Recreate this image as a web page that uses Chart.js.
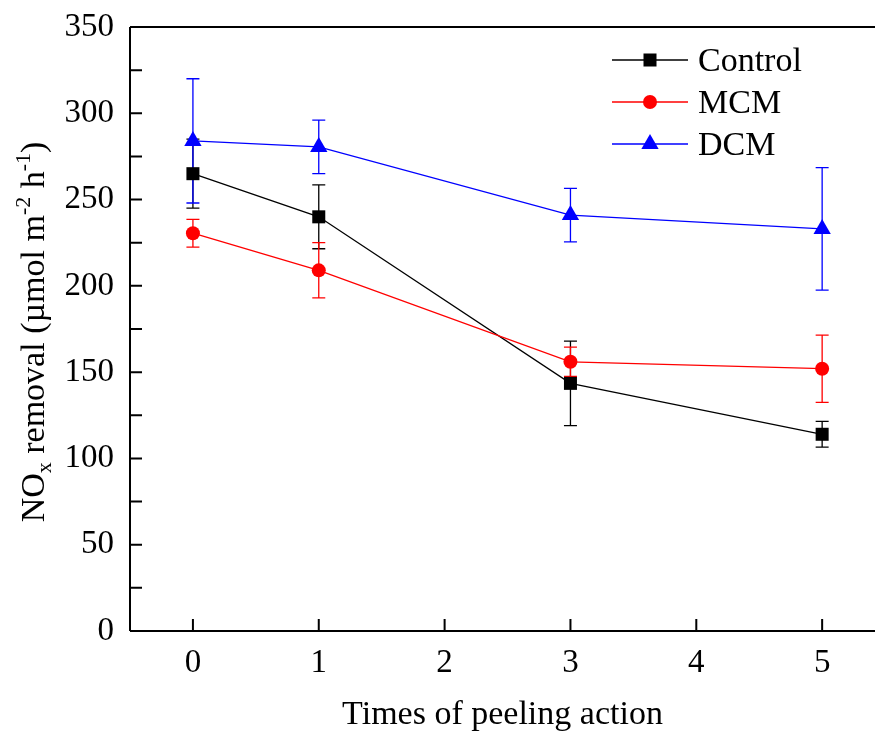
<!DOCTYPE html>
<html>
<head>
<meta charset="utf-8">
<script src="https://cdn.jsdelivr.net/npm/chart.js@4/dist/chart.umd.min.js"></script>
<style>
html,body{margin:0;padding:0;overflow:hidden;background:#fff;}
#c{display:block;width:875px;height:731px;}
</style>
</head>
<body>
<canvas id="c" width="875" height="731"></canvas>
<script>
// ---- data ----
const categories = [0, 1, 3, 5];
const seriesNames = ['Control', 'MCM', 'DCM'];
const controlValues = [265, 240, 143.5, 114];
const controlErrors = [20, 18.5, 24.5, 7.5];
const mcmValues = [230.5, 209, 156, 152];
const mcmErrors = [8, 16, 8.5, 19.5];
const dcmValues = [284, 280.5, 241, 233];
const dcmErrors = [36, 15.5, 15.5, 35.5];
const xTickValues = [0, 1, 2, 3, 4, 5];
const yTickValues = [0, 50, 100, 150, 200, 250, 300, 350];
const yMinorTickValues = [0, 25, 50, 75, 100, 125, 150, 175, 200, 225, 250, 275, 300, 325, 350];
const xTitle = 'Times of peeling action';

const FONT = '"Liberation Serif", "Times New Roman", serif';

function mk(vals) { return categories.map((c, i) => ({x: c, y: vals[i]})); }

const datasets = [
  {label: seriesNames[0], data: mk(controlValues), errors: controlErrors, borderColor: '#000000', backgroundColor: '#000000', pointStyle: 'rect', pointRadius: 9.2, order: 3},
  {label: seriesNames[1], data: mk(mcmValues), errors: mcmErrors, borderColor: '#ff0000', backgroundColor: '#ff0000', pointStyle: 'circle', pointRadius: 7, order: 2},
  {label: seriesNames[2], data: mk(dcmValues), errors: dcmErrors, borderColor: '#0000ff', backgroundColor: '#0000ff', pointStyle: 'triangle', pointRadius: 10, order: 1}
].map(d => Object.assign(d, {borderWidth: 1.3, pointBorderWidth: 0, pointHoverRadius: d.pointRadius, fill: false, tension: 0}));

const errorBars = {
  id: 'errorBars',
  beforeDatasetsDraw(chart) {
    const ctx = chart.ctx, xs = chart.scales.x, ys = chart.scales.y;
    ctx.save();
    chart.data.datasets.forEach((ds) => {
      ctx.strokeStyle = ds.borderColor;
      ctx.lineWidth = 1.3;
      ds.data.forEach((p, i) => {
        const e = ds.errors[i];
        const px = xs.getPixelForValue(p.x);
        const t = ys.getPixelForValue(p.y + e), b = ys.getPixelForValue(p.y - e);
        ctx.beginPath();
        ctx.moveTo(px, t); ctx.lineTo(px, b);
        ctx.moveTo(px - 6.5, t); ctx.lineTo(px + 6.5, t);
        ctx.moveTo(px - 6.5, b); ctx.lineTo(px + 6.5, b);
        ctx.stroke();
      });
    });
    ctx.restore();
  }
};

const frame = {
  id: 'frame',
  afterDraw(chart) {
    const ctx = chart.ctx, a = chart.chartArea, xs = chart.scales.x, ys = chart.scales.y;
    ctx.save();
    ctx.strokeStyle = '#000';
    ctx.lineWidth = 2;
    ctx.beginPath();
    ctx.moveTo(a.left, a.top); ctx.lineTo(a.right, a.top);
    ctx.moveTo(a.left, a.top); ctx.lineTo(a.left, a.bottom);
    ctx.moveTo(a.left, a.bottom); ctx.lineTo(a.right, a.bottom);
    ctx.stroke();
    ctx.beginPath();
    xTickValues.forEach(v => { const p = xs.getPixelForValue(v); ctx.moveTo(p, a.bottom); ctx.lineTo(p, a.bottom - 12); });
    yMinorTickValues.forEach(v => { const p = ys.getPixelForValue(v); ctx.moveTo(a.left, p); ctx.lineTo(a.left + 12, p); });
    ctx.stroke();

    // legend
    ctx.textBaseline = 'middle';
    ctx.textAlign = 'left';
    chart.data.datasets.forEach((ds, i) => {
      const y = 60 + i * 42;
      ctx.strokeStyle = ds.borderColor;
      ctx.lineWidth = 1.3;
      ctx.beginPath(); ctx.moveTo(612, y); ctx.lineTo(688, y); ctx.stroke();
      ctx.fillStyle = ds.backgroundColor;
      Chart.helpers.drawPoint(ctx, {pointStyle: ds.pointStyle, radius: ds.pointRadius, borderWidth: 0}, 650, y);
      ctx.fillStyle = '#000';
      ctx.font = '34px ' + FONT;
      ctx.fillText(ds.label, 698, y + 2);
    });

    // y title with sub/superscripts
    const parts = [
      {t: 'NO', s: 34, dy: 0},
      {t: 'x', s: 22, dy: 7},
      {t: ' removal (\u00b5mol m', s: 34, dy: 0},
      {t: '-2', s: 22, dy: -14},
      {t: ' h', s: 34, dy: 0},
      {t: '-1', s: 22, dy: -14},
      {t: ')', s: 34, dy: 0}
    ];
    let total = 0;
    parts.forEach(p => { ctx.font = p.s + 'px ' + FONT; p.w = ctx.measureText(p.t).width; total += p.w; });
    ctx.translate(44, (a.top + a.bottom) / 2 + 3);
    ctx.rotate(-Math.PI / 2);
    ctx.textBaseline = 'alphabetic';
    ctx.fillStyle = '#000';
    let x = -total / 2;
    parts.forEach(p => { ctx.font = p.s + 'px ' + FONT; ctx.fillText(p.t, x, p.dy); x += p.w; });
    ctx.restore();
  }
};

new Chart(document.getElementById('c'), {
  type: 'line',
  data: {datasets},
  options: {
    responsive: false,
    maintainAspectRatio: false,
    animation: false,
    events: [],
    layout: {autoPadding: false, padding: {top: 27, right: 0, left: 0, bottom: 0}},
    plugins: {legend: {display: false}, tooltip: {enabled: false}},
    scales: {
      x: {
        type: 'linear', min: -0.5, max: 5.42,
        afterBuildTicks: s => { s.ticks = xTickValues.map(v => ({value: v})); },
        afterFit: s => { s.height = 100; s.paddingLeft = 0; s.paddingRight = 0; },
        grid: {display: false, drawTicks: false},
        border: {display: false},
        ticks: {color: '#000', padding: 13, font: {family: FONT, size: 33}},
        title: {display: true, text: xTitle, color: '#000', font: {family: FONT, size: 34}, padding: {top: 0, bottom: -4}}
      },
      y: {
        min: 0, max: 350,
        afterBuildTicks: s => { s.ticks = yTickValues.map(v => ({value: v})); },
        afterFit: s => { s.width = 130; s.paddingTop = 0; s.paddingBottom = 0; },
        grid: {display: false, drawTicks: false},
        border: {display: false},
        ticks: {color: '#000', padding: 16, font: {family: FONT, size: 33}}
      }
    }
  },
  plugins: [errorBars, frame]
});
</script>
</body>
</html>
